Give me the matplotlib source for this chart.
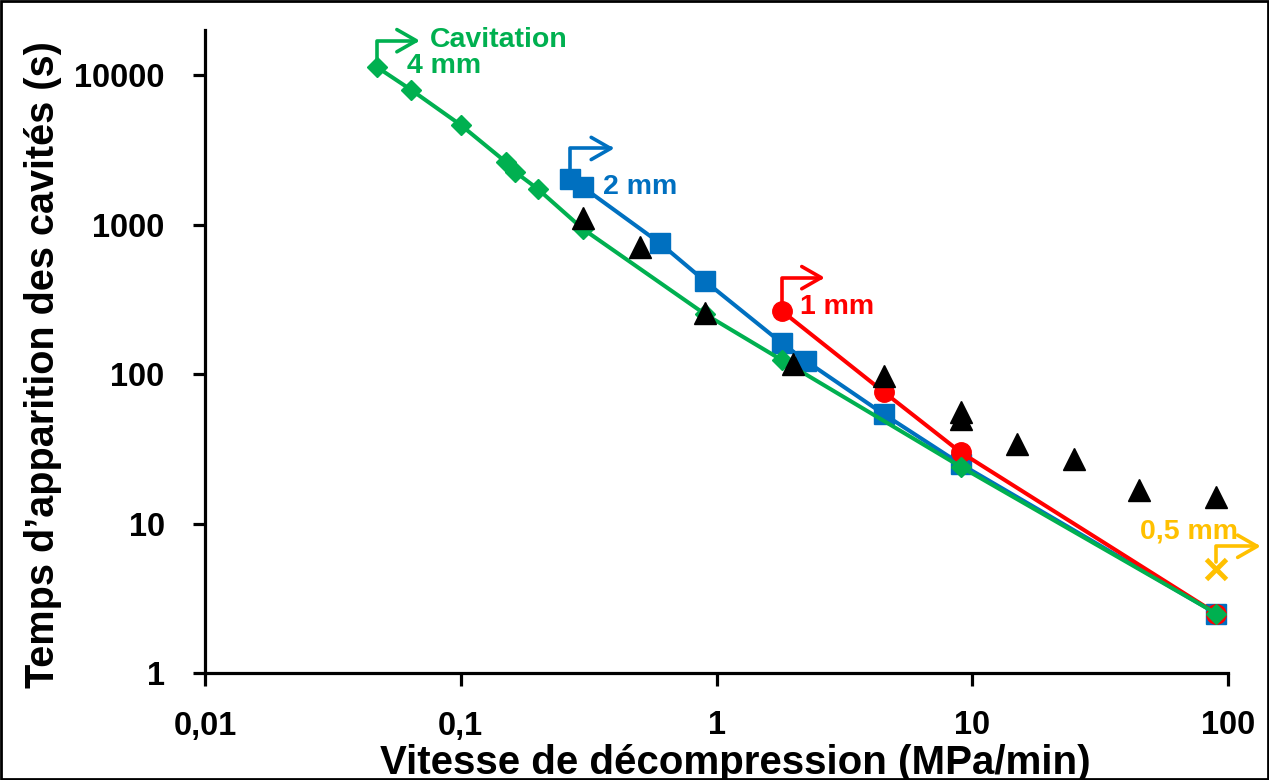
import matplotlib.pyplot as plt
from matplotlib.patches import Rectangle
from matplotlib.transforms import offset_copy
from matplotlib.ticker import FixedLocator, FixedFormatter, NullLocator

plt.rcParams["font.family"] = ["Liberation Sans", "DejaVu Sans"]
plt.rcParams["font.weight"] = "bold"

# 4 mm (green)
x_4mm = [0.047, 0.064, 0.1, 0.15, 0.163, 0.2, 0.3, 0.9, 1.8, 9, 90]
y_4mm = [11300, 7950, 4630, 2620, 2250, 1730, 935, 252, 124, 24, 2.5]

# 2 mm (blue)
x_2mm = [0.267, 0.3, 0.6, 0.9, 1.8, 2.24, 4.5, 9, 90]
y_2mm = [2015, 1780, 752, 419, 161, 122, 54, 25, 2.5]

# 1 mm (red)
x_1mm = [1.8, 4.5, 9, 90]
y_1mm = [264, 76, 30, 2.5]

# cavitation (black triangles)
x_cav = [0.3, 0.5, 0.9, 2.0, 4.5, 9, 9, 15, 25, 45, 90]
y_cav = [1105, 707, 256, 117, 97, 56, 50, 34, 27, 16.8, 15]

# 0,5 mm (orange)
x_05mm = [90]
y_05mm = [5]

x_ticks = [0.01, 0.1, 1, 10, 100]
x_labels = ["0,01", "0,1", "1", "10", "100"]
y_ticks = [1, 10, 100, 1000, 10000]
y_labels = ["1", "10", "100", "1000", "10000"]

green = "#00B050"
blue = "#0070C0"
red = "#FF0000"
orange = "#FFC000"

fig = plt.figure(figsize=(12.69, 7.8), dpi=100)
ax = fig.add_axes([205 / 1269, 1 - 673 / 780, 1023 / 1269, 643 / 780])

ax.plot(x_2mm, y_2mm, color=blue, lw=2.9, marker="s", ms=14, zorder=3)
ax.plot(x_1mm, y_1mm, color=red, lw=2.9, marker="o", ms=14, zorder=4)
ax.plot(x_4mm, y_4mm, color=green, lw=2.9, marker="D", ms=10.5, zorder=5)
ax.plot(x_cav, y_cav, ls="none", color="black", marker="^", ms=16, zorder=6)
ax.plot(x_05mm, y_05mm, ls="none", color=orange, marker="x", ms=14, mew=3.5, zorder=6)

ax.set_xscale("log")
ax.set_yscale("log")
ax.set_xlim(0.01, 100)
ax.set_ylim(1, 20000)

ax.xaxis.set_major_locator(FixedLocator(x_ticks))
ax.xaxis.set_major_formatter(FixedFormatter(x_labels))
ax.yaxis.set_major_locator(FixedLocator(y_ticks))
ax.yaxis.set_major_formatter(FixedFormatter(y_labels))
ax.xaxis.set_minor_locator(NullLocator())
ax.yaxis.set_minor_locator(NullLocator())

for side in ["top", "right"]:
    ax.spines[side].set_visible(False)
for side in ["left", "bottom"]:
    ax.spines[side].set_linewidth(2.3)
ax.tick_params(axis="both", direction="out", length=9, width=2.3,
               labelsize=23.5, pad=20)
ax.tick_params(axis="x", pad=18)

ax.set_xlabel("Vitesse de décompression (MPa/min)", fontsize=29, fontweight="bold")
ax.set_ylabel("Temps d\u2019apparition des cavités (s)", fontsize=28.5, fontweight="bold")
ax.xaxis.set_label_coords(0.518, -0.11)
ax.yaxis.set_label_coords(-0.14, 0.479)


def bracket(x, y, color, start_dy, corner_dy, tip_dx):
    tip = offset_copy(ax.transData, fig=fig, x=tip_dx, y=corner_dy, units="points")
    ax.annotate("", xy=(x, y), xycoords=tip,
                xytext=(-tip_dx, start_dy - corner_dy), textcoords="offset points",
                arrowprops=dict(arrowstyle="->,head_length=0.7,head_width=0.4",
                                connectionstyle="angle,angleA=90,angleB=0,rad=0",
                                color=color, lw=2.6, mutation_scale=20,
                                shrinkA=0, shrinkB=0),
                zorder=7)


def label(x, y, text, color, dx, dy):
    ax.annotate(text, xy=(x, y), xytext=(dx, dy), textcoords="offset points",
                ha="left", va="center", color=color, fontsize=20.5,
                fontweight="bold", zorder=7)


bracket(x_4mm[0], y_4mm[0], green, 4, 19, 31)
label(x_4mm[0], y_4mm[0], "Cavitation", green, 38, 19.5)
label(x_4mm[0], y_4mm[0], "4 mm", green, 21.5, 0.5)

bracket(x_2mm[0], y_2mm[0], blue, 5, 22, 32)
label(x_2mm[0], y_2mm[0], "2 mm", blue, 24, -6)

bracket(x_1mm[0], y_1mm[0], red, 6, 24, 31)
label(x_1mm[0], y_1mm[0], "1 mm", red, 13, 3)

bracket(x_05mm[0], y_05mm[0], orange, 5, 16, 32)
label(x_05mm[0], y_05mm[0], "0,5 mm", orange, -55, 27)

fig.patches.append(Rectangle((0.001, 0.001), 0.998, 0.998, transform=fig.transFigure,
                             fill=False, edgecolor="black", lw=2))

fig.savefig("out.png", dpi=100)
